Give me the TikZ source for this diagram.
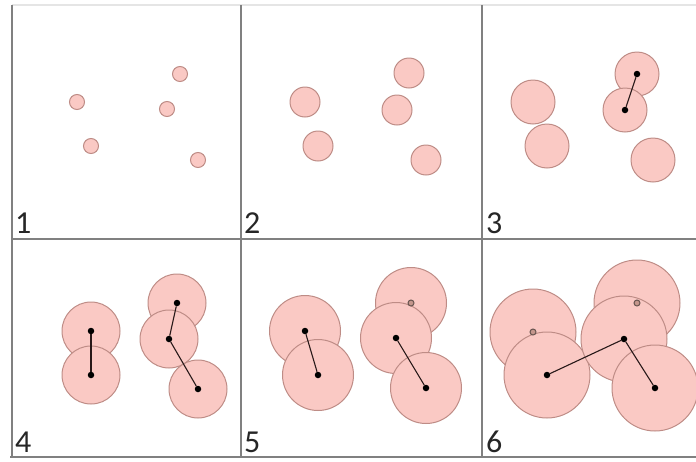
\documentclass[tikz,border=0pt]{standalone}
\usepackage{fontspec}
\setmainfont{Carlito}
\usepackage{xcolor}

\definecolor{blobfill}{RGB}{250,201,196}
\definecolor{blobline}{RGB}{190,140,134}
\definecolor{rimfill}{RGB}{196,150,140}
\definecolor{gridline}{RGB}{128,128,128}

\begin{document}
\begin{tikzpicture}[x=1pt,y=-1pt,
  blob/.style={circle,draw=blobline,fill=blobfill,line width=1pt,inner sep=0pt},
  hub/.style={circle,fill=black,inner sep=0pt,minimum size=6.5pt},
  rim/.style={circle,draw={rgb,255:red,105;green,85;blue,80},fill=rimfill,line width=1pt,inner sep=0pt,minimum size=6pt},
  link/.style={line width=1.1pt,draw={rgb,255:red,40;green,25;blue,25}},
  num/.style={anchor=base west,inner sep=0pt,text=black!85,font=\fontsize{32}{32}\selectfont}]
\useasboundingbox (0,0) rectangle (696,461);

% grid
\draw[black!10,line width=1.5pt] (12,5) -- (696,5);
\draw[gridline,line width=2pt] (12,5) -- (12,457);
\draw[gridline,line width=2pt] (241,5) -- (241,457);
\draw[gridline,line width=2pt] (482,5) -- (482,457);
\draw[gridline,line width=2pt] (12,239) -- (696,239);
\draw[gridline,line width=2pt] (10,457) -- (696,457);

% panel 1
\node[blob,minimum size=15pt] (p1a) at (77,102) {};
\node[blob,minimum size=15pt] (p1b) at (91,146) {};
\node[blob,minimum size=15pt] (p1c) at (180,74) {};
\node[blob,minimum size=15pt] (p1d) at (167,109) {};
\node[blob,minimum size=15pt] (p1e) at (198,160) {};
\node[num] (n1) at (15,233) {1};

% panel 2
\node[blob,minimum size=30pt] (p2a) at (305,102) {};
\node[blob,minimum size=30pt] (p2b) at (318,146) {};
\node[blob,minimum size=30pt] (p2c) at (409,73) {};
\node[blob,minimum size=30pt] (p2d) at (397,110) {};
\node[blob,minimum size=30pt] (p2e) at (426,160) {};
\node[num] (n2) at (244,233) {2};

% panel 3
\node[blob,minimum size=44pt] (p3a) at (533,102) {};
\node[blob,minimum size=44pt] (p3b) at (547,146) {};
\node[blob,minimum size=44pt] (p3c) at (637,74) {};
\node[blob,minimum size=44pt] (p3d) at (625,110) {};
\node[blob,minimum size=44pt] (p3e) at (653,160) {};
\node[hub] (d3c) at (637,74) {};
\node[hub] (d3d) at (625,110) {};
\draw[link] (d3c) -- (d3d);
\node[num] (n3) at (486,233) {3};

% panel 4
\node[blob,minimum size=58pt] (p4a) at (91,331) {};
\node[blob,minimum size=58pt] (p4b) at (91,375) {};
\node[blob,minimum size=58pt] (p4c) at (177,303) {};
\node[blob,minimum size=58pt] (p4d) at (169,339) {};
\node[blob,minimum size=58pt] (p4e) at (198,389) {};
\node[hub] (d4a) at (91,331) {};
\node[hub] (d4b) at (91,375) {};
\node[hub] (d4c) at (177,303) {};
\node[hub] (d4d) at (169,339) {};
\node[hub] (d4e) at (198,389) {};
\draw[link] (d4a) -- (d4b);
\draw[link] (d4c) -- (d4d);
\draw[link] (d4d) -- (d4e);
\node[num] (n4) at (15,452) {4};

% panel 5
\node[blob,minimum size=71pt] (p5a) at (305,331) {};
\node[blob,minimum size=71pt] (p5b) at (318,375) {};
\node[blob,minimum size=71pt] (p5c) at (411,303) {};
\node[blob,minimum size=71pt] (p5d) at (396,338) {};
\node[blob,minimum size=71pt] (p5e) at (426,388) {};
\node[hub] (d5a) at (305,331) {};
\node[hub] (d5b) at (318,375) {};
\node[rim] (d5c) at (411,303) {};
\node[hub] (d5d) at (396,338) {};
\node[hub] (d5e) at (426,388) {};
\draw[link] (d5a) -- (d5b);
\draw[link] (d5d) -- (d5e);
\node[num] (n5) at (244,452) {5};

% panel 6
\node[blob,minimum size=86pt] (p6a) at (533,332) {};
\node[blob,minimum size=86pt] (p6b) at (547,375) {};
\node[blob,minimum size=86pt] (p6c) at (637,303) {};
\node[blob,minimum size=86pt] (p6d) at (624,339) {};
\node[blob,minimum size=86pt] (p6e) at (655,388) {};
\node[rim] (d6a) at (533,332) {};
\node[hub] (d6b) at (547,375) {};
\node[rim] (d6c) at (637,303) {};
\node[hub] (d6d) at (624,339) {};
\node[hub] (d6e) at (655,388) {};
\draw[link] (d6b) -- (d6d);
\draw[link] (d6d) -- (d6e);
\node[num] (n6) at (486,452) {6};
\end{tikzpicture}
\end{document}
